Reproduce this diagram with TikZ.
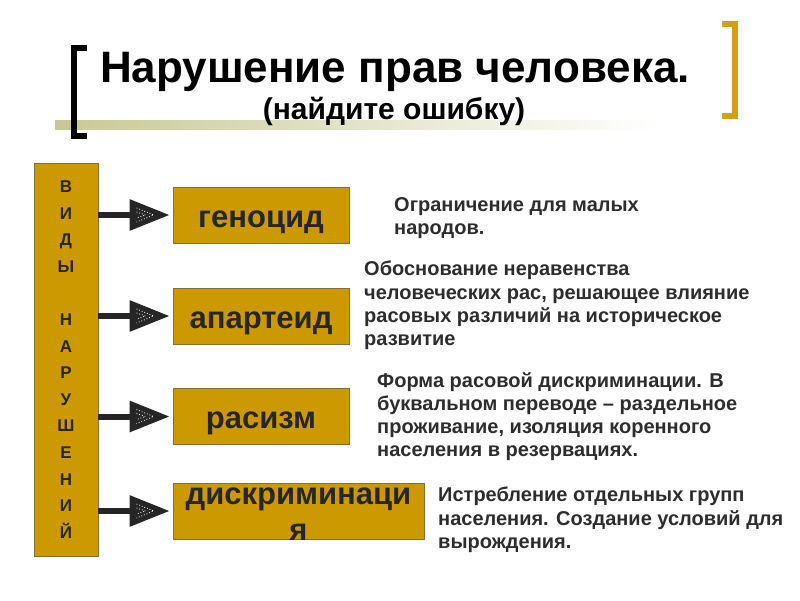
\documentclass[tikz,border=0pt]{standalone}
\usepackage{fontspec}
\setmainfont{Liberation Sans}
\usetikzlibrary{arrows.meta,calc}
\definecolor{gold}{RGB}{204,153,0}
\definecolor{goldbr}{RGB}{212,160,23}
\definecolor{boxedge}{RGB}{130,112,60}
\definecolor{khaki}{RGB}{200,200,150}
\definecolor{ink}{RGB}{38,38,38}
\definecolor{txt}{RGB}{45,45,45}
\tikzset{
  box/.style={draw=boxedge, line width=0.8pt, fill=gold, minimum width=176pt, minimum height=56pt, inner sep=0pt,
    font=\fontsize{31}{33}\selectfont\bfseries, text=ink, text height=24pt, text depth=0pt},
  vbox/.style={draw=boxedge, line width=0.8pt, fill=gold, minimum width=64pt, minimum height=393pt, inner sep=0pt,
    align=center, font=\fontsize{17}{26.6}\selectfont\bfseries, text=ink},
  desc/.style={anchor=north west, inner sep=0pt, align=left, text=txt,
    font=\fontsize{20}{23.3}\selectfont\bfseries},
  arr/.style={draw=ink, line width=6pt, -{Triangle[length=40pt,width=30pt]}, shorten >=3pt},
  chev/.style={draw=white, dotted, line width=0.8pt},
  brk/.style={line width=6pt, line cap=butt}
}
\begin{document}
\begin{tikzpicture}[x=1pt,y=-1pt]
\useasboundingbox (0,0) rectangle (800,600);
\fill[white] (0,0) rectangle (800,600);
% gradient rule
\shade[left color=khaki, right color=white] (55,120) rectangle (660,129);
% brackets
\draw[brk, black] (87,48) -- (74,48) -- (74,136) -- (87,136);
\draw[brk, goldbr] (722,24) -- (735,24) -- (735,116) -- (722,116);
% titles
\node[font=\fontsize{44}{46}\selectfont\bfseries, inner sep=0pt] (title) at (395,72) {Нарушение прав человека.};
\node[font=\fontsize{30}{32}\selectfont\bfseries, inner sep=0pt] (sub) at (394,111) {(найдите ошибку)};
% left vertical box
\node[vbox] (kinds) at (66,359.5) {В\\И\\Д\\Ы\\~\\Н\\А\\Р\\У\\Ш\\Е\\Н\\И\\Й};
% type boxes
\node[box] (gen) at (261,215) {геноцид};
\node[box] (apa) at (261,316) {апартеид};
\node[box] (rac) at (261,416.5) {расизм};
\node[box, minimum width=251pt] (dis) at (298.5,511) {};
\node[font=\fontsize{31}{36}\selectfont\bfseries, text=ink, align=center, inner sep=0pt] (distext) at (298.5,514.5) {дискриминаци\\я};
% arrows
\foreach \b in {gen,apa,rac,dis}{
  \draw[arr] (kinds.east |- \b.west) -- (\b.west);
  \draw[chev] ($(\b.west)+(-36,-7)$) -- ($(\b.west)+(-19,0)$) -- ($(\b.west)+(-36,7)$);
  \draw[chev] ($(\b.west)+(-36,-3)$) -- ($(\b.west)+(-27,0)$) -- ($(\b.west)+(-36,3)$);
}
% descriptions
\node[desc] (d1) at (394,197) {Ограничение для малых\\народов.};
\node[desc] (d2) at (364,261) {Обоснование неравенства\\человеческих рас, решающее влияние\\расовых различий на историческое\\развитие};
\node[desc] (d3) at (377,372) {Форма расовой дискриминации. В\\буквальном переводе – раздельное\\проживание, изоляция коренного\\населения в резервациях.};
\node[desc] (d4) at (438,487) {Истребление отдельных групп\\населения. Создание условий для\\вырождения.};
\end{tikzpicture}
\end{document}
